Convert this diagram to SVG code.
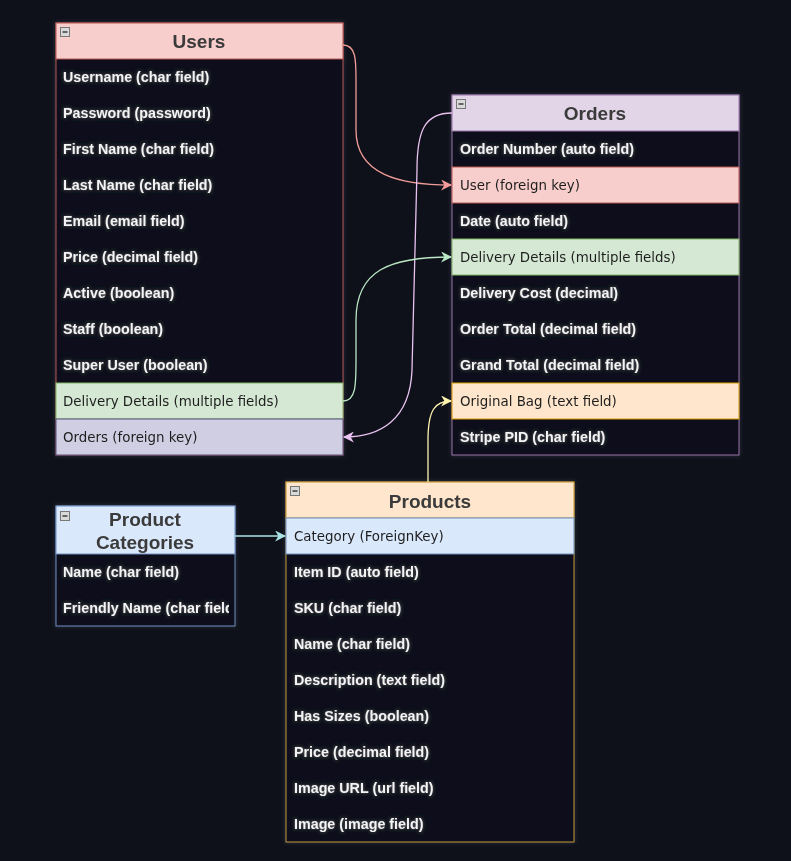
<svg xmlns="http://www.w3.org/2000/svg" width="791" height="861" viewBox="0 0 791 861">
<defs>
<style>
.t{font-family:"Liberation Sans",Arial,sans-serif;font-size:14.3px;font-weight:bold;fill:#f4f4f4;filter:url(#glow)}
.d{font-family:"DejaVu Sans",Verdana,sans-serif;font-size:13.4px;fill:#1f1f1f}
.h{font-family:"Liberation Sans",Arial,sans-serif;font-size:19px;font-weight:bold;fill:#3a3a3a;text-anchor:middle}
.body{fill:#0f111a}
.mini{fill:#d9d9d9;stroke:#777;stroke-width:1}
.mline{stroke:#333;stroke-width:1.4}
.c{fill:none;stroke-width:1.3}
</style>
<filter id="glow" x="-10%" y="-40%" width="120%" height="180%">
<feGaussianBlur in="SourceAlpha" stdDeviation="1.6" result="b"/>
<feFlood flood-color="#ffffff" flood-opacity="0.35"/>
<feComposite in2="b" operator="in" result="g"/>
<feMerge><feMergeNode in="g"/><feMergeNode in="SourceGraphic"/></feMerge>
</filter>
<filter id="bx" x="-5%" y="-5%" width="110%" height="110%">
<feGaussianBlur in="SourceAlpha" stdDeviation="2" result="b"/>
<feFlood flood-color="#8899bb" flood-opacity="0.25"/>
<feComposite in2="b" operator="in" result="g"/>
<feMerge><feMergeNode in="g"/><feMergeNode in="SourceGraphic"/></feMerge>
</filter>
<marker id="aPink" viewBox="0 0 10 10" refX="9" refY="5" markerWidth="11" markerHeight="11" markerUnits="userSpaceOnUse" orient="auto"><path d="M0,0 L10,5 L0,10 L3,5 Z" fill="#f19c99"/></marker>
<marker id="aLav" viewBox="0 0 10 10" refX="9" refY="5" markerWidth="11" markerHeight="11" markerUnits="userSpaceOnUse" orient="auto"><path d="M0,0 L10,5 L0,10 L3,5 Z" fill="#e8c2f0"/></marker>
<marker id="aGrn" viewBox="0 0 10 10" refX="9" refY="5" markerWidth="11" markerHeight="11" markerUnits="userSpaceOnUse" orient="auto"><path d="M0,0 L10,5 L0,10 L3,5 Z" fill="#b9e7c4"/></marker>
<marker id="aYel" viewBox="0 0 10 10" refX="9" refY="5" markerWidth="11" markerHeight="11" markerUnits="userSpaceOnUse" orient="auto"><path d="M0,0 L10,5 L0,10 L3,5 Z" fill="#fff4b0"/></marker>
<marker id="aCyn" viewBox="0 0 10 10" refX="9" refY="5" markerWidth="11" markerHeight="11" markerUnits="userSpaceOnUse" orient="auto"><path d="M0,0 L10,5 L0,10 L3,5 Z" fill="#aee3e6"/></marker>
<clipPath id="pcClip"><rect x="56" y="554" width="173" height="72"/></clipPath>
</defs>
<rect width="791" height="861" fill="#0f111a"/>

<g id="users" filter="url(#bx)">
<rect class="body" x="56" y="23" width="287" height="432" stroke="#b85450"/>
<rect x="56" y="23" width="287" height="36" fill="#f8cecc" stroke="#b85450"/>
<rect class="mini" x="60.5" y="27.5" width="9" height="9"/><line class="mline" x1="62.5" y1="32" x2="67.5" y2="32"/>
<text class="h" x="199" y="48">Users</text>
<text class="t" x="63" y="82">Username (char field)</text>
<text class="t" x="63" y="118">Password (password)</text>
<text class="t" x="63" y="154">First Name (char field)</text>
<text class="t" x="63" y="190">Last Name (char field)</text>
<text class="t" x="63" y="226">Email (email field)</text>
<text class="t" x="63" y="262">Price (decimal field)</text>
<text class="t" x="63" y="298">Active (boolean)</text>
<text class="t" x="63" y="334">Staff (boolean)</text>
<text class="t" x="63" y="370">Super User (boolean)</text>
<rect x="56" y="383" width="287" height="36" fill="#d5e8d4" stroke="#82b366"/>
<text class="d" x="63" y="406">Delivery Details (multiple fields)</text>
<rect x="56" y="419" width="287" height="36" fill="#d0cee2" stroke="#56517e"/>
<text class="d" x="63" y="442">Orders (foreign key)</text>
</g>

<g id="orders" filter="url(#bx)">
<rect class="body" x="452" y="95" width="287" height="360" stroke="#9673a6"/>
<rect x="452" y="95" width="287" height="36" fill="#e1d5e7" stroke="#9673a6"/>
<rect class="mini" x="456.5" y="99.5" width="9" height="9"/><line class="mline" x1="458.5" y1="104" x2="463.5" y2="104"/>
<text class="h" x="595" y="120">Orders</text>
<text class="t" x="460" y="154">Order Number (auto field)</text>
<rect x="452" y="167" width="287" height="36" fill="#f8cecc" stroke="#b85450"/>
<text class="d" x="460" y="190">User (foreign key)</text>
<text class="t" x="460" y="226">Date (auto field)</text>
<rect x="452" y="239" width="287" height="36" fill="#d5e8d4" stroke="#82b366"/>
<text class="d" x="460" y="262">Delivery Details (multiple fields)</text>
<text class="t" x="460" y="298">Delivery Cost (decimal)</text>
<text class="t" x="460" y="334">Order Total (decimal field)</text>
<text class="t" x="460" y="370">Grand Total (decimal field)</text>
<rect x="452" y="383" width="287" height="36" fill="#ffe6cc" stroke="#d79b00"/>
<text class="d" x="460" y="406">Original Bag (text field)</text>
<text class="t" x="460" y="442">Stripe PID (char field)</text>
</g>

<g id="product-categories" filter="url(#bx)">
<rect class="body" x="56" y="506" width="179" height="120" stroke="#6c8ebf"/>
<rect x="56" y="506" width="179" height="48" fill="#dae8fc" stroke="#6c8ebf"/>
<rect class="mini" x="60.5" y="511.5" width="9" height="9"/><line class="mline" x1="62.5" y1="516" x2="67.5" y2="516"/>
<text class="h" x="145" y="526">Product</text>
<text class="h" x="145" y="549">Categories</text>
<g clip-path="url(#pcClip)">
<text class="t" x="63" y="577">Name (char field)</text>
<text class="t" x="63" y="613">Friendly Name (char field)</text>
</g>
</g>

<g id="products" filter="url(#bx)">
<rect class="body" x="286" y="482" width="288" height="360" stroke="#c0962e"/>
<rect x="286" y="482" width="288" height="36" fill="#ffe6cc" stroke="#c0962e"/>
<rect class="mini" x="290.5" y="486.5" width="9" height="9"/><line class="mline" x1="292.5" y1="491" x2="297.5" y2="491"/>
<text class="h" x="430" y="508">Products</text>
<rect x="286" y="518" width="288" height="36" fill="#dae8fc" stroke="#6c8ebf"/>
<text class="d" x="294" y="541">Category (ForeignKey)</text>
<text class="t" x="294" y="577">Item ID (auto field)</text>
<text class="t" x="294" y="613">SKU (char field)</text>
<text class="t" x="294" y="649">Name (char field)</text>
<text class="t" x="294" y="685">Description (text field)</text>
<text class="t" x="294" y="721">Has Sizes (boolean)</text>
<text class="t" x="294" y="757">Price (decimal field)</text>
<text class="t" x="294" y="793">Image URL (url field)</text>
<text class="t" x="294" y="829">Image (image field)</text>
</g>

<g id="connectors">
<path class="c" stroke="#f19c99" d="M343,45 C356,45 356,60 356,80 L356,130 C356,175 400,185 451,185" marker-end="url(#aPink)"/>
<path class="c" stroke="#e8c2f0" d="M452,113 C425,113 417,130 417,170 L412,370 C410,420 380,437 344,437" marker-end="url(#aLav)"/>
<path class="c" stroke="#b9e7c4" d="M343,401 C356,401 356,385 356,360 L356,320 C356,270 390,257 451,257" marker-end="url(#aGrn)"/>
<path class="c" stroke="#fff4b0" d="M428,482 L428,440 C428,410 435,401 451,401" marker-end="url(#aYel)"/>
<path class="c" stroke="#aee3e6" d="M235,536 L285,536" marker-end="url(#aCyn)"/>
</g>
</svg>
